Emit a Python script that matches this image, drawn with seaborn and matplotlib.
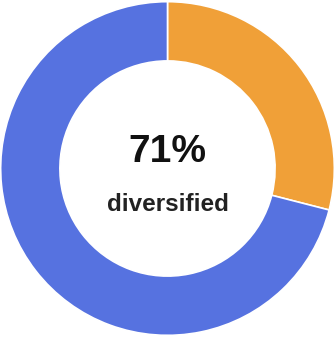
"""Donut chart: share of diversified holdings."""

import matplotlib.pyplot as plt
import seaborn as sns

labels = ["other", "diversified"]
shares = [29, 71]
colors = ["#F0A038", "#5672E0"]
headline = "71%"
caption = "diversified"

sns.set_theme(style="white")
plt.rcParams["font.family"] = ["Liberation Sans", "DejaVu Sans"]

fig = plt.figure(figsize=(3.35, 3.37), dpi=100)
ax = fig.add_axes([0, 0, 1, 1])
ax.pie(
    shares,
    colors=colors,
    startangle=90,
    counterclock=False,
    radius=1.0,
    wedgeprops=dict(width=0.355, edgecolor="white", linewidth=1.2),
)
ax.set_xlim(-1.0, 1.0)
ax.set_ylim(-1.01, 1.01)
ax.set_aspect("equal")
ax.axis("off")

ax.text(0, 0.10, headline, ha="center", va="center", fontsize=28,
        fontweight="bold", color="#111111")
ax.text(0, -0.215, caption, ha="center", va="center", fontsize=17.5,
        fontweight="bold", color="#222222")

fig.savefig("out.png", dpi=100)
